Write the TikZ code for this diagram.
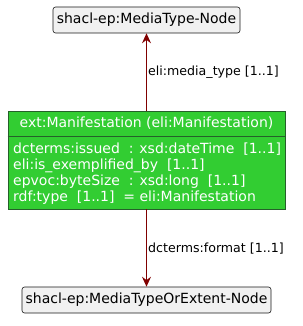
\documentclass[tikz,border=0pt]{standalone}
\usepackage{fontspec}
\setmainfont{DejaVu Sans}
\usetikzlibrary{arrows.meta}
\definecolor{nodefill}{HTML}{F1F1F1}
\definecolor{nodeborder}{HTML}{181818}
\definecolor{classfill}{HTML}{32CD32}
\definecolor{classborder}{HTML}{25602A}
\definecolor{arrowred}{HTML}{800000}
\tikzset{
  x=1pt, y=-1pt,
  refnode/.style={draw=nodeborder, fill=nodefill, rounded corners=2.5pt, line width=0.6pt, inner sep=0pt, font=\fontsize{14}{16}\selectfont},
  classbox/.style={draw=classborder, fill=classfill, line width=0.8pt, inner sep=0pt},
  classtext/.style={text=white, inner sep=0pt, font=\fontsize{14}{16}\selectfont},
  rel/.style={draw=arrowred, line width=0.9pt, -{Stealth[length=10pt, width=9pt, inset=3.5pt]}},
  rellabel/.style={inner sep=0pt, anchor=west, font=\fontsize{12.6}{15}\selectfont, text=black},
}
\begin{document}
\begin{tikzpicture}
\useasboundingbox (0,0) rectangle (302,326);
% top node
\node[refnode, minimum width=187pt, minimum height=26pt] (top) at (146.5,20) {shacl-ep:MediaType-Node};
% class box
\node[classbox, minimum width=277pt, minimum height=98pt] (man) at (146.5,160) {};
\draw[classborder, line width=0.8pt] (man.west |- 0,136) coordinate (divl) -- (man.east |- 0,136) coordinate (divr);
\node[classtext] (hdr) at (146.5,123) {ext:Manifestation (eli:Manifestation)};
\node[classtext, anchor=west] (a1) at (13,149.5) {dcterms:issued~ : xsd:dateTime~ [1..1]};
\node[classtext, anchor=west] (a2) at (13,165.5) {eli:is\_exemplified\_by~ [1..1]};
\node[classtext, anchor=west] (a3) at (13,181.5) {epvoc:byteSize~ : xsd:long~ [1..1]};
\node[classtext, anchor=west] (a4) at (13,197.5) {rdf:type~ [1..1]~ = eli:Manifestation};
% bottom node
\node[refnode, minimum width=249pt, minimum height=26pt] (bot) at (146.5,300) {shacl-ep:MediaTypeOrExtent-Node};
% connectors
\draw[rel] (man.north) -- (top.south);
\draw[rel] (man.south) -- (bot.north);
\node[rellabel] (l1) at (148,72) {eli:media\_type [1..1]};
\node[rellabel] (l2) at (148,249) {dcterms:format [1..1]};
\end{tikzpicture}
\end{document}
